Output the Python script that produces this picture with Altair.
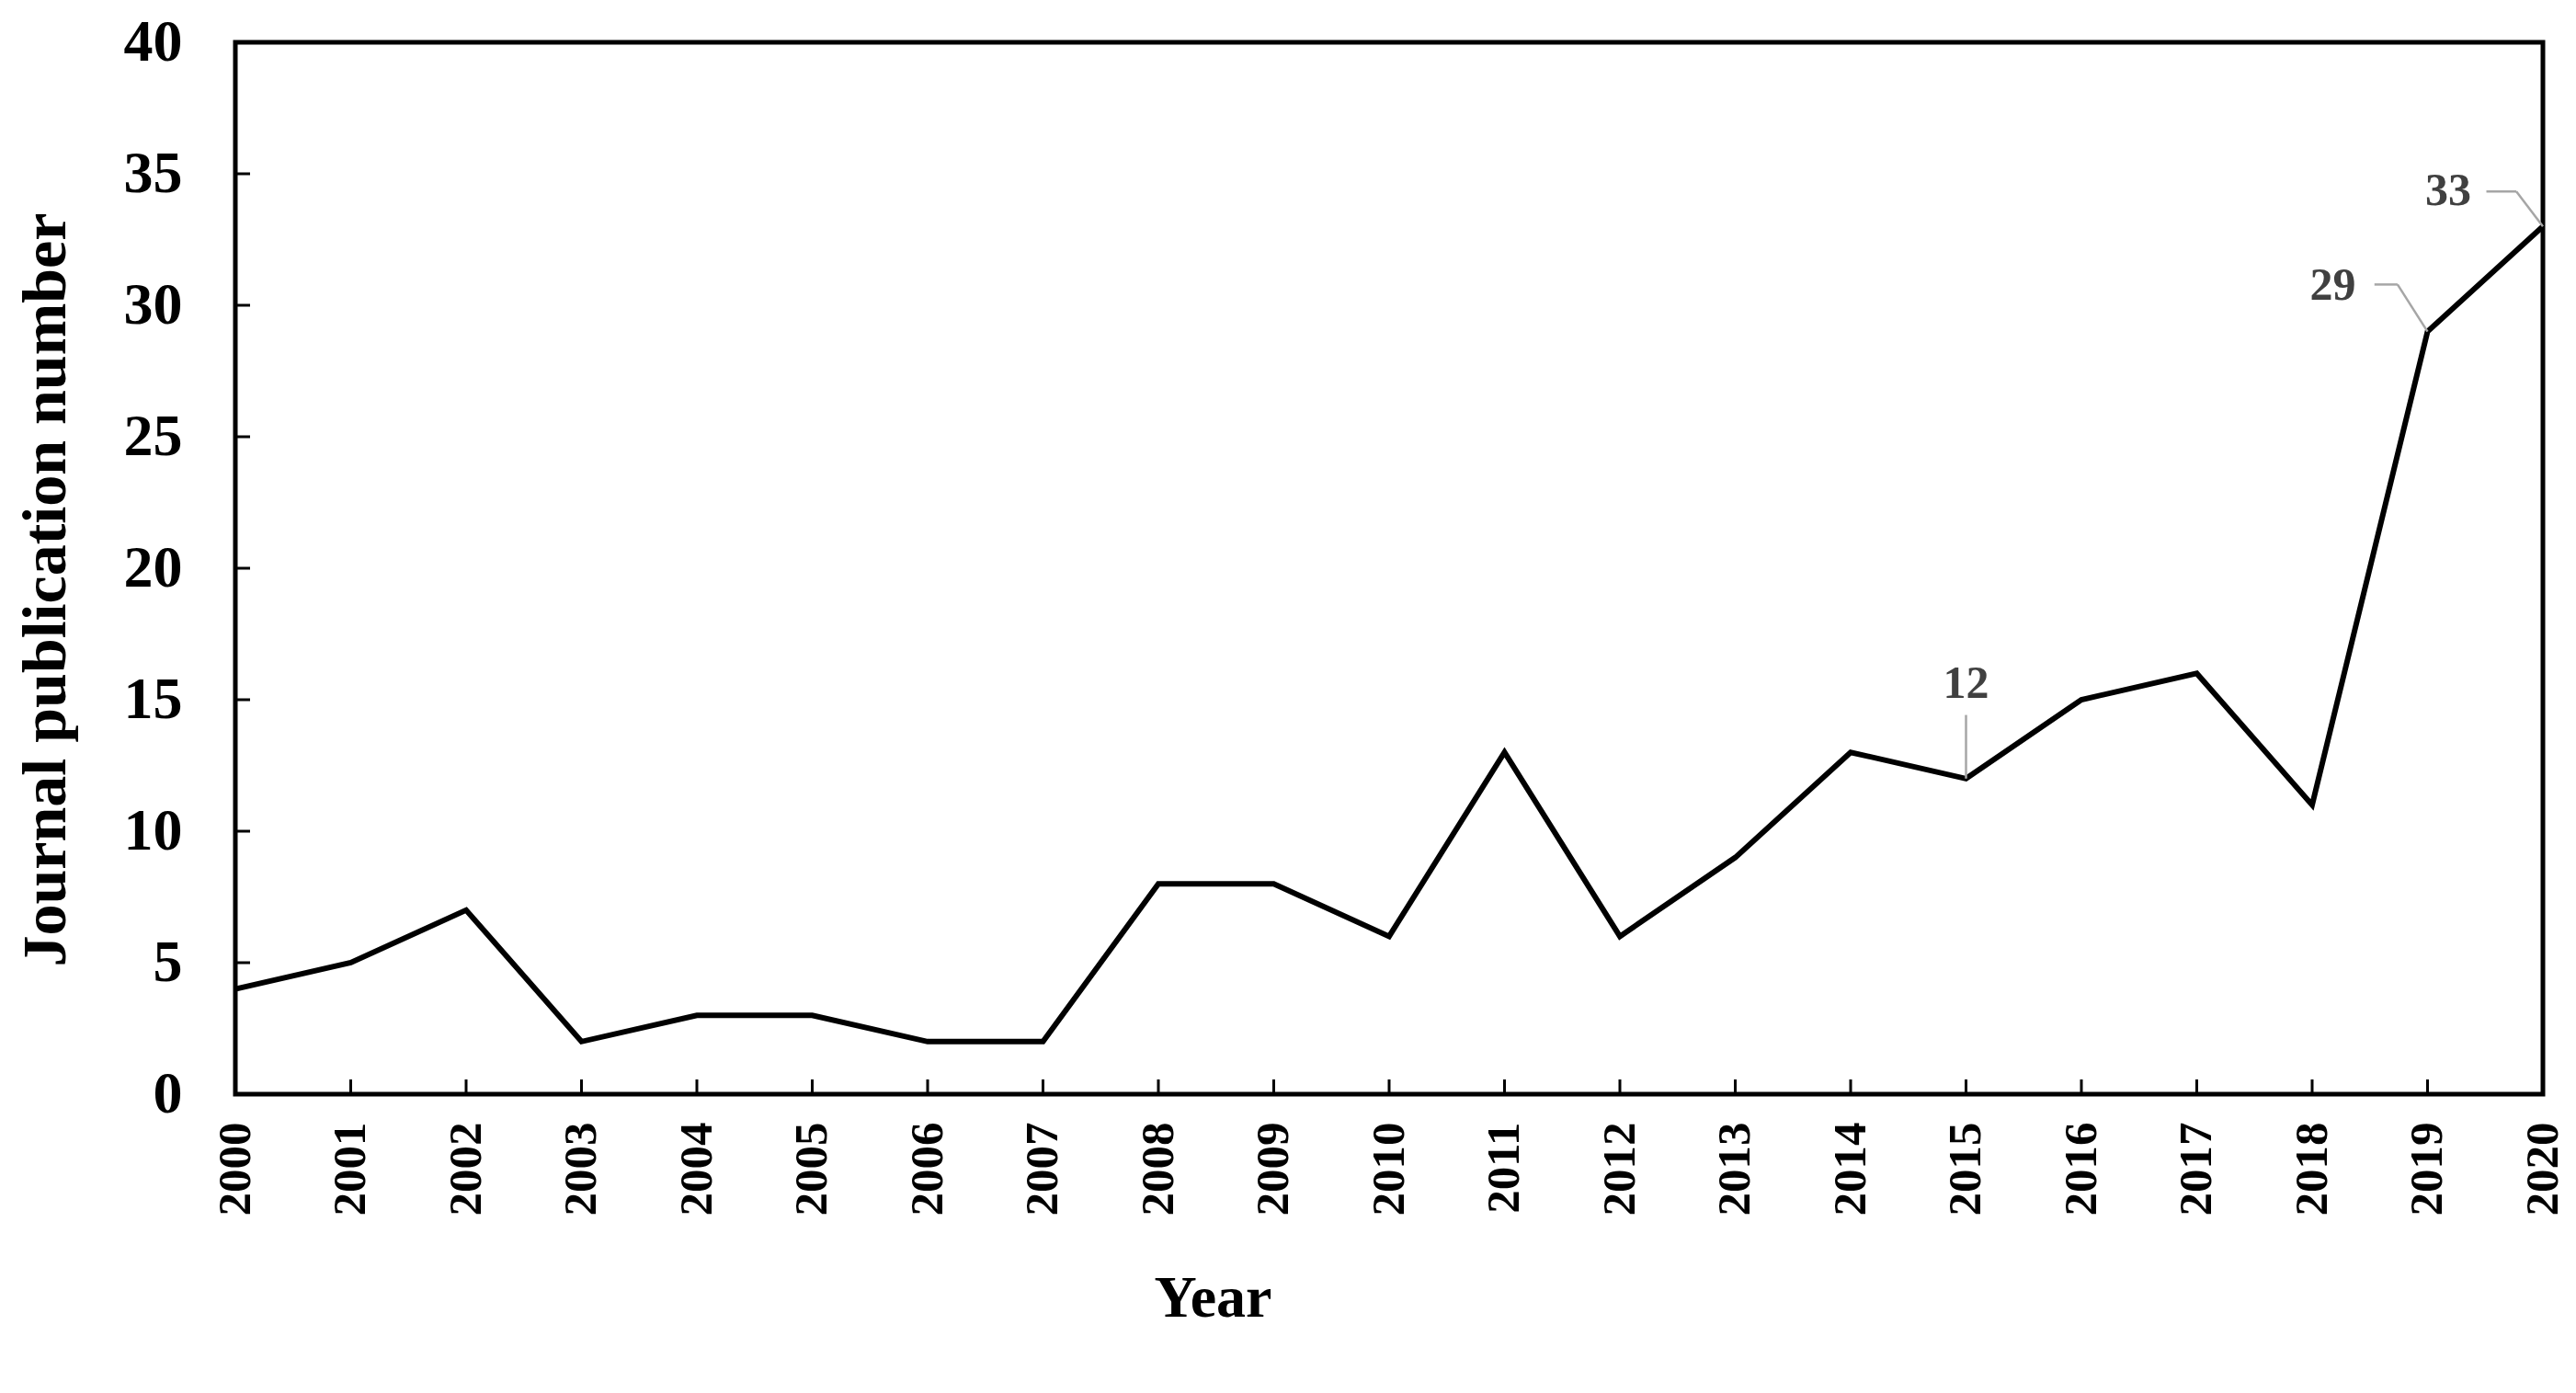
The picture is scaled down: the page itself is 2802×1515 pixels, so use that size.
import altair as alt
import pandas as pd

years = list(range(2000, 2021))
counts = [4, 5, 7, 2, 3, 3, 2, 2, 8, 8, 6, 13, 6, 9, 13, 12, 15, 16, 11, 29, 33]

y_ticks = [5, 10, 15, 20, 25, 30, 35]
y_labels = [0, 5, 10, 15, 20, 25, 30, 35, 40]
x_inner_ticks = list(range(2001, 2020))

ann_text = ["12", "29", "33"]
ann_x = [2015.0, 2018.18, 2019.18]
ann_y = [15.6, 30.75, 34.35]
# leader line segments (x, y, x2, y2)
seg_x = [2015.0, 2019.0, 2018.74, 2020.0, 2019.77]
seg_y = [12.0, 29.0, 30.79, 33.0, 34.33]
seg_x2 = [2015.0, 2018.74, 2018.54, 2019.77, 2019.51]
seg_y2 = [14.42, 30.79, 30.79, 34.33, 34.33]

df = pd.DataFrame({"year": years, "count": counts})
df_yt = pd.DataFrame({"year": [2000] * len(y_ticks), "count": y_ticks})
df_xt = pd.DataFrame({"year": x_inner_ticks, "count": [0] * len(x_inner_ticks)})
df_ann = pd.DataFrame({"t": ann_text, "year": ann_x, "count": ann_y})
df_seg = pd.DataFrame({"year": seg_x, "count": seg_y, "x2": seg_x2, "y2": seg_y2})

W, H = 2510, 1144
FONT = "Liberation Serif"

xs = alt.Scale(domain=[2000, 2020], nice=False, zero=False)
ys = alt.Scale(domain=[0, 40], nice=False)

xaxis = alt.Axis(
    values=years, format="d", labelAngle=270, labelFont=FONT, labelFontSize=51,
    labelFontWeight="bold", labelColor="black", labelPadding=30, ticks=False,
    domain=False, grid=False, labelFlush=False, labelOverlap=False,
    title="Year", titleFont=FONT, titleFontSize=64, titleFontWeight="bold",
    titleColor="black", titleX=1063, titleY=222, titleAlign="center",
    titleBaseline="middle")
yaxis = alt.Axis(
    values=y_labels, labelFont=FONT, labelFontSize=64, labelFontWeight="bold",
    labelColor="black", labelPadding=58, ticks=False, domain=False, grid=False,
    labelFlush=False, labelOverlap=False,
    title="Journal publication number", titleFont=FONT, titleFontSize=68,
    titleFontWeight="bold", titleColor="black", titleX=-206, titleY=595,
    titleAngle=270, titleAlign="center", titleBaseline="middle")

X = alt.X("year:Q", scale=xs, axis=xaxis, title="Year")
Y = alt.Y("count:Q", scale=ys, axis=yaxis, title="Journal publication number")

line = alt.Chart(df).mark_line(color="black", strokeWidth=6).encode(x=X, y=Y)

ytick = alt.Chart(df_yt).mark_rule(color="black", strokeWidth=3).encode(
    y=Y, x=alt.value(0), x2=alt.value(16),
)

xtick = alt.Chart(df_xt).mark_rule(color="black", strokeWidth=3).encode(
    x=X, y=alt.value(H), y2=alt.value(H - 16),
)

seg = alt.Chart(df_seg).mark_rule(color="#a6a6a6", strokeWidth=2.5).encode(
    x=X, y=Y, x2="x2:Q", y2="y2:Q",
)

txt = alt.Chart(df_ann).mark_text(
    font=FONT, fontSize=50, fontWeight="bold", color="#404040",
    align="center", baseline="middle",
).encode(x=X, y=Y, text="t:N")

chart = alt.layer(line, seg, ytick, xtick, txt).properties(
    width=W, height=H,
    background="white",
    autosize=alt.AutoSizeParams(type="none"),
    padding={"left": 248, "top": 38, "right": 28, "bottom": 300},
).configure_view(stroke="black", strokeWidth=5)

chart.save("out.html", embed_options={"renderer": "svg", "actions": False})
